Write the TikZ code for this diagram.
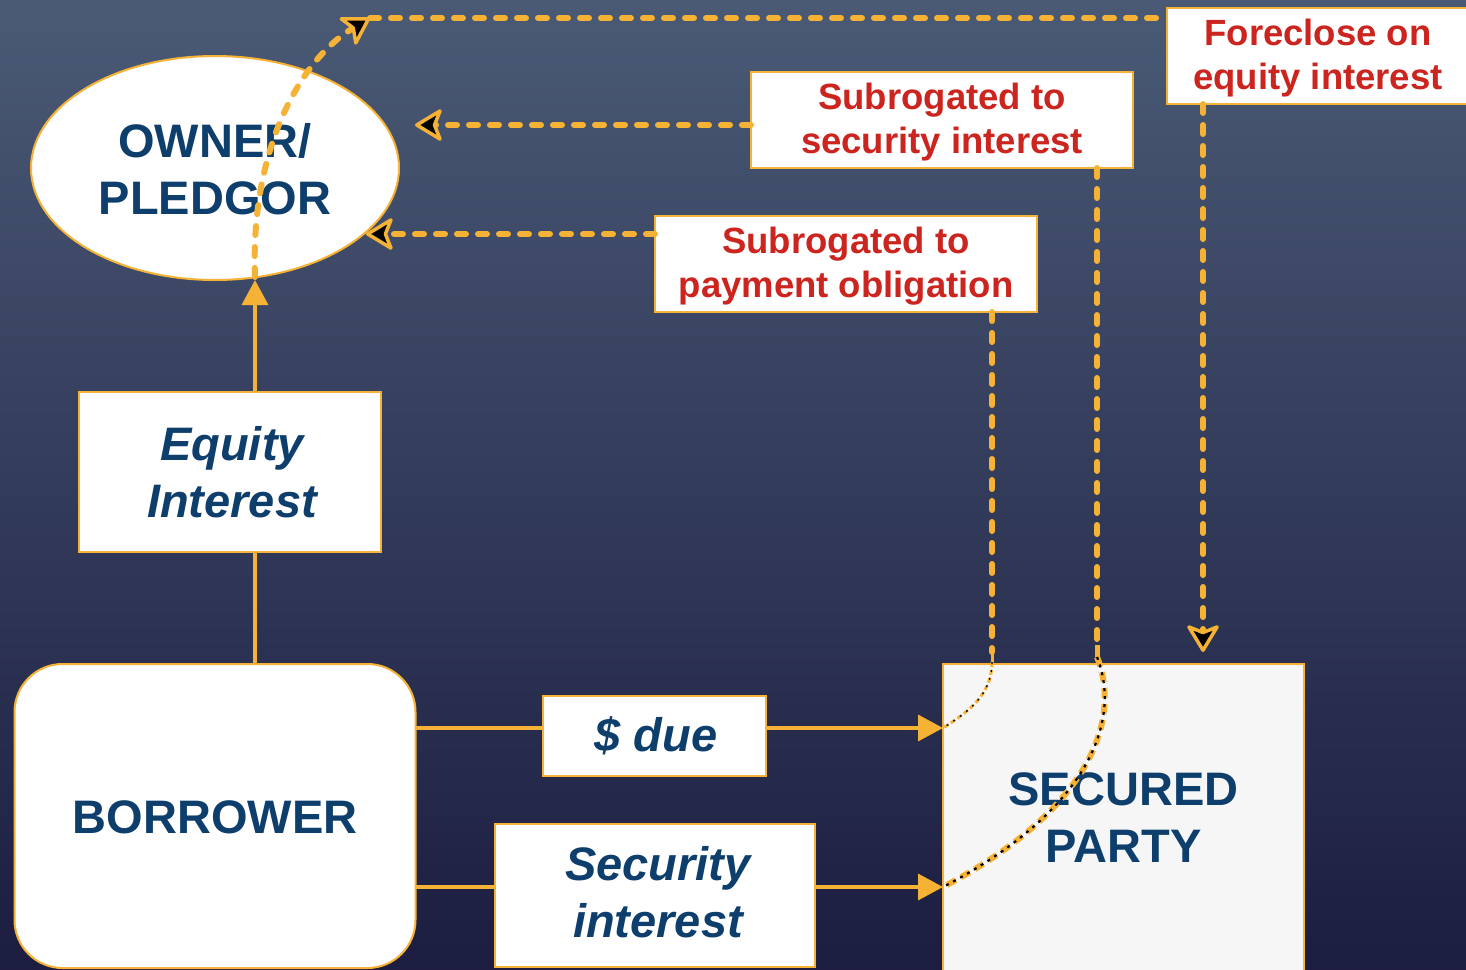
\documentclass[tikz,border=0pt]{standalone}
\usepackage{fontspec}
\setmainfont{Liberation Sans}
\usetikzlibrary{shapes.geometric,arrows.meta,calc}
\definecolor{bgtop}{RGB}{74,90,117}
\definecolor{bgbot}{RGB}{28,29,64}
\definecolor{gold}{RGB}{245,178,52}
\definecolor{navy}{RGB}{14,62,108}
\definecolor{crimson}{RGB}{204,36,30}
\definecolor{paper}{RGB}{246,246,246}
\tikzset{
  box/.style={draw=gold, line width=2pt, fill=white, inner sep=0pt, outer sep=0pt},
  bigtext/.style={text=navy, font=\fontsize{47}{57}\selectfont\bfseries, align=center, inner sep=0pt},
  bigital/.style={text=navy, font=\fontsize{47}{57}\selectfont\bfseries\itshape, align=center, inner sep=0pt},
  notetext/.style={text=crimson, font=\fontsize{36.5}{44}\selectfont\bfseries, align=center},
  flow/.style={draw=gold, line width=3.5pt},
  flowhead/.style={-{Triangle[length=25pt,width=26pt]}},
  dashlink/.style={draw=gold, line width=6pt, line cap=round, dash pattern=on 9pt off 12pt},
  hook/.style={-{Stealth[length=30pt,width=36pt,inset=7pt,fill=black,line width=3.5pt,round]}},
  threadA/.style={draw=gold, line width=3pt, dash pattern=on 5pt off 3pt},
  threadAdots/.style={draw=black, line width=1.3pt, dash pattern=on 2pt off 6pt},
  threadB/.style={draw=gold, line width=6pt, dash pattern=on 10pt off 6pt},
  threadBdots/.style={draw=black, line width=2.2pt, dash pattern=on 3pt off 5pt},
}
\begin{document}
\begin{tikzpicture}[x=1pt,y=-1pt]
  % page and backdrop
  \clip (0,0) rectangle (1466,969);
  \shade[top color=bgtop, bottom color=bgbot] (0,0) rectangle (1466,969);

  % parties
  \node[box, ellipse, minimum width=368pt, minimum height=224pt] (owner) at (215,168) {};
  \node[bigtext] (ownertxt) at (215,169) {OWNER/\\PLEDGOR};

  \node[box, minimum width=302pt, minimum height=160pt] (equity) at (230,472) {};
  \node[bigital] (equitytxt) at (232,472) {Equity\\Interest};

  \node[box, rounded corners=48pt, minimum width=401pt, minimum height=304pt] (borrower) at (215,816) {};
  \node[bigtext] (borrowertxt) at (215,817) {BORROWER};

  \node[box, minimum width=223pt, minimum height=80pt] (due) at (654,736) {};
  \node[bigital] (duetxt) at (656,736) {\$ due};

  \node[box, minimum width=320pt, minimum height=143pt] (secbox) at (655,895.5) {};
  \node[bigital] (sectxt) at (658,892) {Security\\interest};

  \node[box, fill=paper, minimum width=361pt, minimum height=308pt] (secured) at (1123.5,818) {};
  \node[bigtext] (securedtxt) at (1123.5,818) {SECURED\\PARTY};

  % remedy notes
  \node[box, minimum width=382pt, minimum height=96pt] (ss) at (942,120) {};
  \node[notetext] (sstxt) at (942,122) {Subrogated to\\security interest};

  \node[box, minimum width=382pt, minimum height=96pt] (ps) at (846,264) {};
  \node[notetext] (pstxt) at (846,266) {Subrogated to\\payment obligation};

  \node[box, minimum width=304pt, minimum height=96pt] (fc) at (1319,56) {};
  \node[notetext] (fctxt) at (1318,58) {Foreclose on\\equity interest};

  % solid flows
  \coordinate (bup) at ($(borrower.north)+(40,0)$);
  \coordinate (dy) at (0,728);
  \coordinate (sy) at (0,887);
  \draw[flow] (bup) -- (bup |- equity.south);
  \draw[flow, flowhead] (bup |- equity.north) -- (bup |- owner.south);
  \draw[flow] (borrower.east |- dy) -- (due.west |- dy);
  \draw[flow, flowhead] (due.east |- dy) -- (secured.west |- dy);
  \draw[flow] (borrower.east |- sy) -- (secbox.west |- sy);
  \draw[flow, flowhead] (secbox.east |- sy) -- (secured.west |- sy);

  % dashed remedies
  \coordinate (ssout) at ($(ss.west)+(0,5)$);
  \coordinate (psout) at ($(ps.west)+(0,-30)$);
  \draw[dashlink, hook, shorten >=16pt] (ssout) -- (ssout -| owner.east);
  \draw[dashlink, hook] (psout) -- (psout -| owner.-23);

  \coordinate (corner) at (370,18);
  \coordinate (fcdrop) at ($(fc.south west)+(36,0)$);
  \draw[dashlink] (corner) -- (corner -| fc.west);
  \draw[dashlink, hook] ($(owner.south)+(40,-3)$) .. controls (250,150) and (300,60) .. (corner);
  \draw[dashlink, hook, shorten >=12pt] (fcdrop) -- (fcdrop |- secured.north);

  % payment obligation thread
  \coordinate (pdrop) at ($(ps.south east)+(-45,0)$);
  \coordinate (pbend) at (992,652);
  \draw[dashlink] (pdrop) -- (pbend);
  \draw[gold, line width=3pt] (pbend) -- (992,662);
  \draw[threadA] (992,662) .. controls (992,695) and (968,712) .. (secured.west |- dy);
  \draw[threadAdots] (992,662) .. controls (992,695) and (968,712) .. (secured.west |- dy);

  % security interest thread
  \coordinate (sdrop) at ($(ss.south east)+(-36,0)$);
  \coordinate (sbend) at (1097,645);
  \draw[dashlink] (sdrop) -- (sbend);
  \draw[gold, line width=5pt] (sbend) -- (1097,657);
  \draw[threadB] (1097,657) .. controls (1122,720) and (1090,810) .. (secured.west |- sy);
  \draw[threadBdots] (1097,657) .. controls (1122,720) and (1090,810) .. (secured.west |- sy);
\end{tikzpicture}
\end{document}
